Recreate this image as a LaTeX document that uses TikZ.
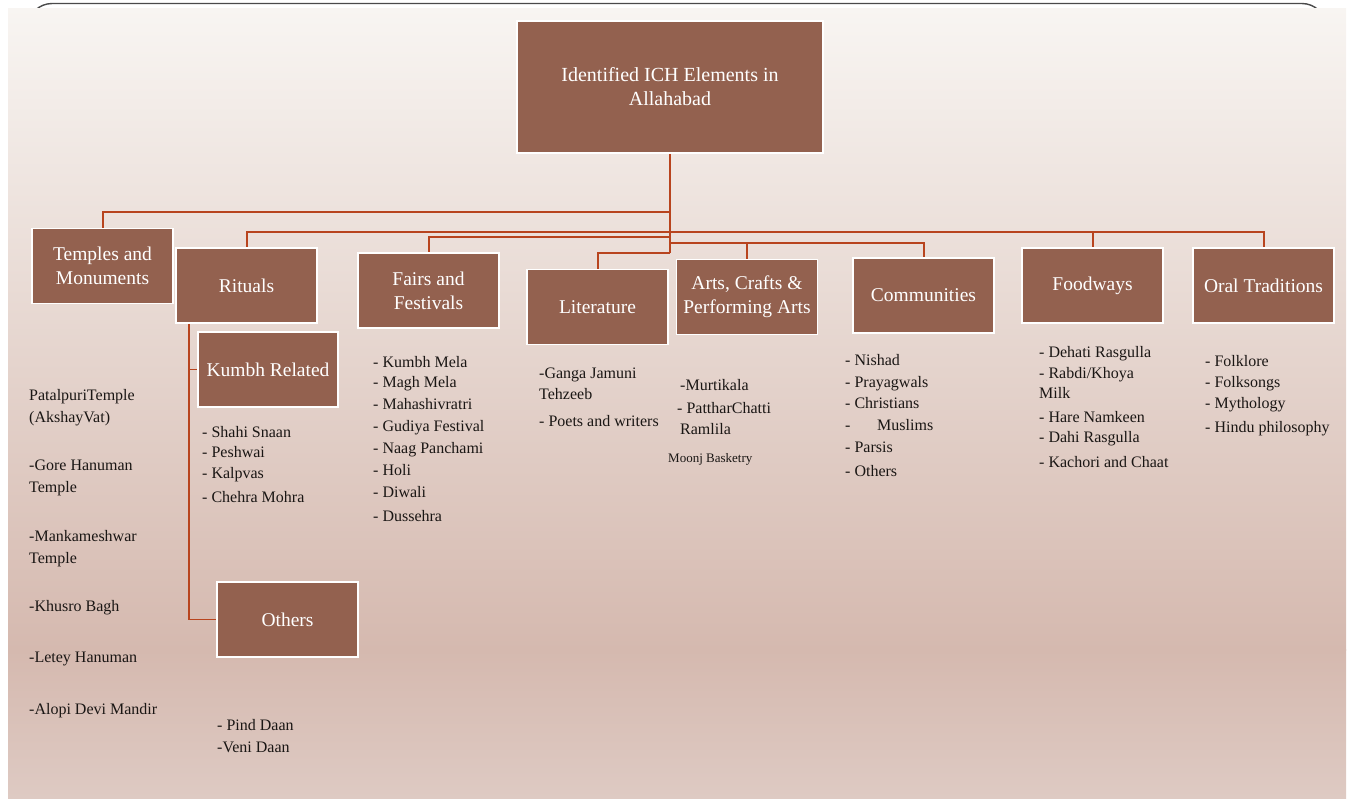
\documentclass[tikz,border=0pt]{standalone}
\usepackage{fontspec}
\setmainfont{Liberation Serif}
\definecolor{boxfill}{HTML}{93614F}
\definecolor{conn}{HTML}{B8441E}
\definecolor{bgtop}{HTML}{F8F5F2}
\definecolor{bgmid}{HTML}{D5B9AF}
\definecolor{bgbot}{HTML}{DECAC3}
\definecolor{itemtxt}{HTML}{1A1614}
\definecolor{framec}{HTML}{4A4A4A}
\begin{document}
\begin{tikzpicture}[x=1pt,y=-1pt,
  cat/.style={draw=white, line width=1.5pt, fill=boxfill, text=white,
    minimum width=141pt, minimum height=75pt, align=center, inner sep=1pt,
    font=\fontsize{19.5}{24}\selectfont},
  item/.style={anchor=west, inner sep=0pt, text=itemtxt,
    font=\fontsize{16}{18.5}\selectfont, execute at begin node=\strut},
  smallitem/.style={item, font=\fontsize{13}{15}\selectfont},
  link/.style={draw=conn, line width=2pt},
  sublink/.style={draw=conn, line width=1.8pt}]
\useasboundingbox (0,0) rectangle (1352,798);
% slide frame and background
\draw[framec, line width=1.4pt, rounded corners=24pt] (28,40) -- (28,3.5) -- (1326,3.5) -- (1326,40);
\shade[top color=bgtop, bottom color=bgmid] (8,8) rectangle (1346,650);
\shade[top color=bgmid, bottom color=bgbot] (8,649.5) rectangle (1346,798);
% boxes
\node[cat, minimum width=306pt, minimum height=132pt, font=\fontsize{20}{24}\selectfont] (top) at (670,87) {Identified ICH Elements in\\Allahabad};
\node[cat] (temples) at (102.5,266) {Temples and\\Monuments};
\node[cat] (rituals) at (246.5,285.5) {Rituals};
\node[cat] (fairs) at (428.5,290.5) {Fairs and\\Festivals};
\node[cat] (lit) at (597.5,307) {Literature};
\node[cat] (arts) at (747,297) {Arts, Crafts \&\\Performing Arts};
\node[cat] (comm) at (923.5,295.5) {Communities};
\node[cat] (food) at (1092.5,285.5) {Foodways};
\node[cat] (oral) at (1263.5,285.5) {Oral Traditions};
\node[cat, minimum width=140pt] (kumbh) at (268,369.5) {Kumbh Related};
\node[cat] (others) at (287.5,619.5) {Others};
% bus coordinates
\coordinate (b1) at (670,212);
\coordinate (b2) at (670,232);
\coordinate (b3) at (670,237);
\coordinate (b4) at (670,243);
\coordinate (b5) at (670,253);
\draw[link, line width=2.4pt] (top.south) -- (b5);
\draw[link] (b1) -| (temples.north);
\draw[link] (b2) -| (rituals.north);
\draw[link] (b2) -| (food.north);
\draw[link] (b2) -| (oral.north);
\draw[link] (b3) -| (fairs.north);
\draw[link] (b4) -| (arts.north);
\draw[link] (b4) -| (comm.north);
\draw[link] (b5) -| (lit.north);
\coordinate (r0) at ([xshift=14pt]rituals.south west);
\draw[sublink] (r0) |- (others.west);
\draw[sublink] (r0 |- kumbh.west) -- (kumbh.west);
% Temples items
\node[item] (t1) at (29,397) {PatalpuriTemple};
\node[item] (t2) at (29,419) {(AkshayVat)};
\node[item] (t3) at (29,467) {-Gore Hanuman};
\node[item] (t4) at (29,489) {Temple};
\node[item] (t5) at (29,538) {-Mankameshwar};
\node[item] (t6) at (29,560) {Temple};
\node[item] (t7) at (29,608) {-Khusro Bagh};
\node[item] (t8) at (29,659) {-Letey Hanuman};
\node[item] (t9) at (29,711) {-Alopi Devi Mandir};
% Kumbh items
\node[item] (k1) at (202,434) {- Shahi Snaan};
\node[item] (k2) at (202,454) {- Peshwai};
\node[item] (k3) at (202,475) {- Kalpvas};
\node[item] (k4) at (202,499) {- Chehra Mohra};
% Others items
\node[item] (o1) at (217,727) {- Pind Daan};
\node[item] (o2) at (217,749) {-Veni Daan};
% Fairs items
\node[item] (f1) at (373,364) {- Kumbh Mela};
\node[item] (f2) at (373,384) {- Magh Mela};
\node[item] (f3) at (373,406) {- Mahashivratri};
\node[item] (f4) at (373,428) {- Gudiya Festival};
\node[item] (f5) at (373,450) {- Naag Panchami};
\node[item] (f6) at (373,472) {- Holi};
\node[item] (f7) at (373,494) {- Diwali};
\node[item] (f8) at (373,518) {- Dussehra};
% Literature items
\node[item] (l1) at (539,375) {-Ganga Jamuni};
\node[item] (l2) at (539,396) {Tehzeeb};
\node[item] (l3) at (539,423) {- Poets and writers};
% Arts items
\node[item] (a1) at (680,387) {-Murtikala};
\node[item] (a2) at (677,410) {- PattharChatti};
\node[item] (a3) at (680,431) {Ramlila};
\node[smallitem] (a4) at (668,459) {Moonj Basketry};
% Communities items
\node[item] (c1) at (845,362) {- Nishad};
\node[item] (c2) at (845,384) {- Prayagwals};
\node[item] (c3) at (845,405) {- Christians};
\node[item] (c4) at (845,427) {-};
\node[item] (c4b) at (877,427) {Muslims};
\node[item] (c5) at (845,449) {- Parsis};
\node[item] (c6) at (845,473) {- Others};
% Foodways items
\node[item] (d1) at (1039,354) {- Dehati Rasgulla};
\node[item] (d2) at (1039,375) {- Rabdi/Khoya};
\node[item] (d3) at (1039,395) {Milk};
\node[item] (d4) at (1039,419) {- Hare Namkeen};
\node[item] (d5) at (1039,439) {- Dahi Rasgulla};
\node[item] (d6) at (1039,464) {- Kachori and Chaat};
% Oral items
\node[item] (r1) at (1205,363) {- Folklore};
\node[item] (r2) at (1205,384) {- Folksongs};
\node[item] (r3) at (1205,405) {- Mythology};
\node[item] (r4) at (1205,429) {- Hindu philosophy};
\end{tikzpicture}
\end{document}
